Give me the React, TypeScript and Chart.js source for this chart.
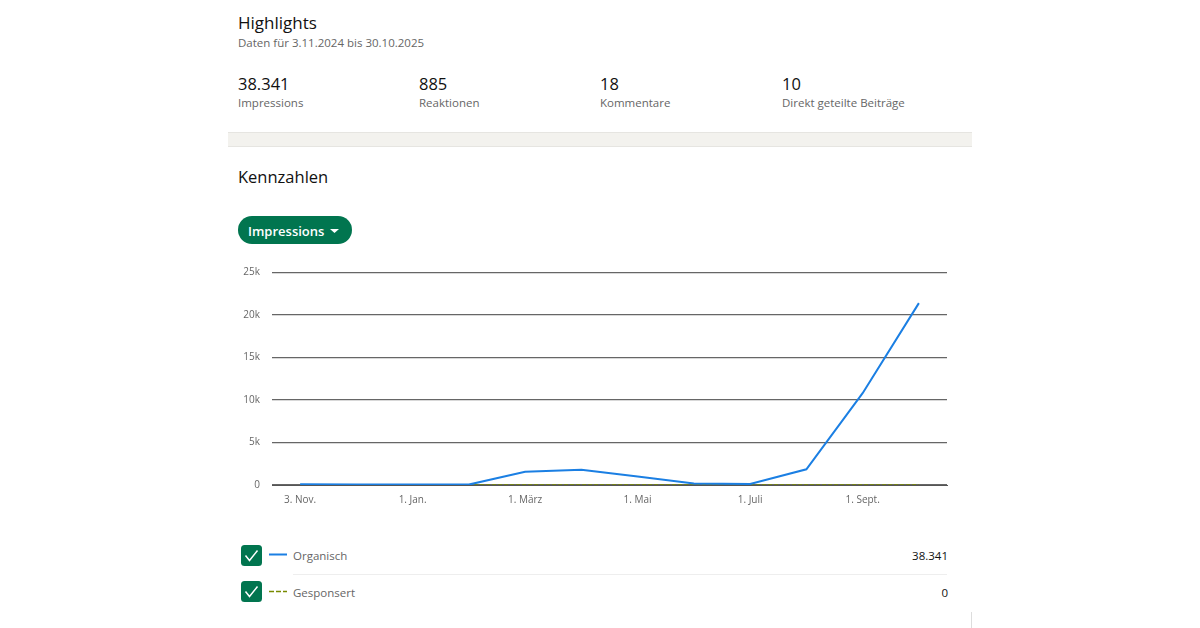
import { useEffect, useRef } from "react";
import type { CSSProperties } from "react";
import { Chart, registerables } from "chart.js";

Chart.register(...registerables);

const categories = ["3. Nov.", "1. Dez.", "1. Jan.", "1. Feb.", "1. März", "1. Apr.", "1. Mai", "1. Juni", "1. Juli", "1. Aug.", "1. Sept.", "1. Okt."];
const organisch = [100, 60, 50, 50, 1550, 1800, 1000, 180, 120, 1850, 10800, 21400];
const gesponsert = [0, 0, 0, 0, 0, 0, 0, 0, 0, 0, 0, 0];
const yTicks = [0, 5000, 10000, 15000, 20000, 25000];
const yTickLabels = ["0", "5k", "10k", "15k", "20k", "25k"];

const highlights = [
  { value: "38.341", label: "Impressions", left: 238 },
  { value: "885", label: "Reaktionen", left: 419 },
  { value: "18", label: "Kommentare", left: 600 },
  { value: "10", label: "Direkt geteilte Beiträge", left: 782 },
];

const FONT = '"Open Sans", "Noto Sans", sans-serif';
const GREEN = "#01754f";

function abs(left: number, top: number, extra: CSSProperties = {}): CSSProperties {
  return { position: "absolute", left, top, whiteSpace: "nowrap", ...extra };
}

function CheckBox({ top }: { top: number }) {
  return (
    <svg style={abs(241, top)} width="21" height="21" viewBox="0 0 21 21">
      <rect x="0" y="0" width="21" height="21" rx="3.5" fill={GREEN} />
      <path d="M4.5 10.5 L8.5 15.5 L16.5 5.5" fill="none" stroke="#fff" strokeWidth="1.5" />
    </svg>
  );
}

export default function App() {
  const chartRef = useRef<HTMLCanvasElement>(null);

  useEffect(() => {
    const ctx = chartRef.current?.getContext("2d");
    if (!ctx) return;

    const chart = new Chart(ctx, {
      type: "line",
      data: {
        labels: categories,
        datasets: [
          {
            label: "Organisch",
            data: organisch,
            borderColor: "#1b7fe3",
            borderWidth: 2,
            pointRadius: 0,
            tension: 0,
            order: 1,
          },
          {
            label: "Gesponsert",
            data: gesponsert,
            borderColor: "#788a00",
            borderWidth: 1.5,
            borderDash: [4, 2],
            pointRadius: 0,
            tension: 0,
            order: 2,
          },
        ],
      },
      options: {
        responsive: false,
        animation: false,
        layout: { padding: { top: 22.5, right: 25, left: 0, bottom: 0 } },
        plugins: { legend: { display: false }, tooltip: { enabled: false } },
        scales: {
          x: {
            offset: true,
            afterFit: (scale) => {
              scale.height = 35;
            },
            grid: { display: false },
            border: { color: "#555", width: 1 },
            ticks: {
              autoSkip: false,
              maxRotation: 0,
              padding: 1,
              color: "#666",
              font: { family: FONT, size: 10 },
              callback: (_v, i) => (i % 2 === 0 ? categories[i] : ""),
            },
          },
          y: {
            min: 0,
            max: 25000,
            afterFit: (scale) => {
              scale.width = 44;
            },
            afterBuildTicks: (scale) => {
              scale.ticks = yTicks.map((value) => ({ value }));
            },
            grid: { color: "#666", lineWidth: 1.2, drawTicks: false },
            border: { display: false },
            ticks: {
              padding: 12,
              color: "#666",
              font: { family: FONT, size: 10 },
              callback: (v) => yTickLabels[yTicks.indexOf(Number(v))],
            },
          },
        },
      },
    });

    return () => chart.destroy();
  }, []);

  return (
    <div style={{ position: "fixed", inset: 0, background: "#fff", overflow: "hidden", fontFamily: FONT }}>
      <div style={abs(238, 12, { fontSize: 17, fontWeight: 500, color: "#111", lineHeight: "22px" })}>Highlights</div>
      <div style={abs(238, 34, { fontSize: 11.5, color: "#666", lineHeight: "18px" })}>Daten für 3.11.2024 bis 30.10.2025</div>

      {highlights.map((h) => (
        <div key={h.label}>
          <div style={abs(h.left, 73, { fontSize: 16.5, fontWeight: 500, color: "#111", lineHeight: "22px" })}>{h.value}</div>
          <div style={abs(h.left, 94, { fontSize: 11.5, color: "#666", lineHeight: "18px" })}>{h.label}</div>
        </div>
      ))}

      <div style={abs(228, 132, { width: 744, height: 15, boxSizing: "border-box", background: "#f3f2ee", borderTop: "1px solid #e6e5e1", borderBottom: "1px solid #e6e5e1" })} />

      <div style={abs(238, 166, { fontSize: 16.5, fontWeight: 500, color: "#111", lineHeight: "22px" })}>Kennzahlen</div>

      <div style={abs(238, 216, { width: 114, height: 28, borderRadius: 14, background: GREEN })} />
      <div style={abs(248, 222, { fontSize: 13, fontWeight: 600, color: "#fff", lineHeight: "18px" })}>Impressions</div>
      <svg style={abs(330, 229)} width="9" height="4" viewBox="0 0 9 4">
        <path d="M0 0 L9 0 L4.5 4 Z" fill="#fff" />
      </svg>

      <canvas ref={chartRef} width={744} height={270} style={abs(228, 250, { width: 744, height: 270 })} />

      <CheckBox top={545} />
      <svg style={abs(269, 553)} width="18" height="3" viewBox="0 0 18 3">
        <line x1="0" y1="1.5" x2="18" y2="1.5" stroke="#1b7fe3" strokeWidth="2" />
      </svg>
      <div style={abs(293, 547, { fontSize: 11.5, color: "#666", lineHeight: "18px" })}>Organisch</div>
      <div style={abs(848, 547, { width: 100, textAlign: "right", fontSize: 11.5, fontWeight: 500, color: "#111", lineHeight: "18px" })}>38.341</div>

      <div style={abs(293, 574, { width: 654, height: 1, background: "#eeeeee" })} />

      <CheckBox top={581} />
      <svg style={abs(269, 590)} width="18" height="3" viewBox="0 0 18 3">
        <line x1="0" y1="1.5" x2="18" y2="1.5" stroke="#788a00" strokeWidth="1.5" strokeDasharray="5 2" />
      </svg>
      <div style={abs(293, 584, { fontSize: 11.5, color: "#666", lineHeight: "18px" })}>Gesponsert</div>
      <div style={abs(848, 584, { width: 100, textAlign: "right", fontSize: 11.5, fontWeight: 500, color: "#111", lineHeight: "18px" })}>0</div>

      <div style={abs(971, 612, { width: 1, height: 16, background: "#dddddd" })} />
    </div>
  );
}
